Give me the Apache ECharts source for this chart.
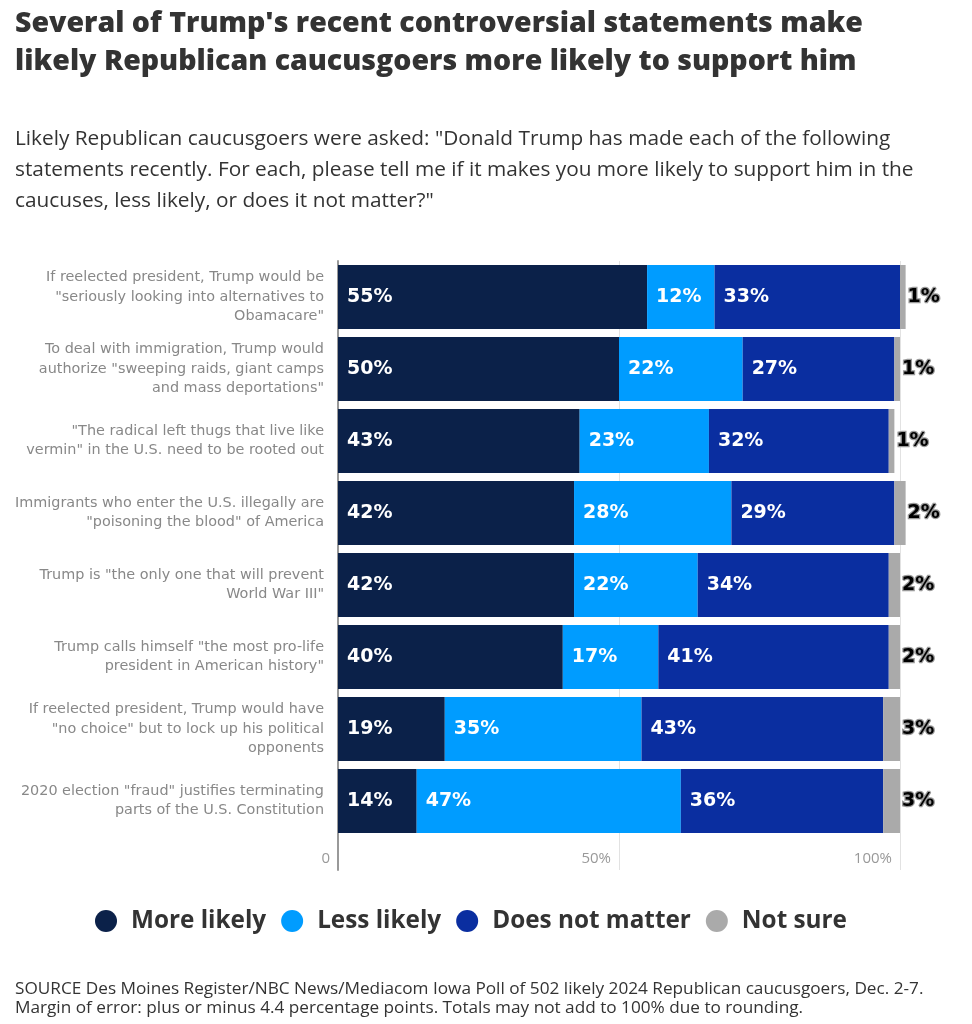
<!DOCTYPE html>
<html>
<head>
<meta charset="utf-8">
<script src="https://cdn.jsdelivr.net/npm/echarts@6/dist/echarts.min.js"></script>
<style>
html,body{margin:0;padding:0;background:#fff;}
#chart{width:972px;height:1024px;}
</style>
</head>
<body>
<div id="chart"></div>
<script>
const titleText = "Several of Trump's recent controversial statements make\nlikely Republican caucusgoers more likely to support him";
const subtitleText = 'Likely Republican caucusgoers were asked: "Donald Trump has made each of the following\nstatements recently. For each, please tell me if it makes you more likely to support him in the\ncaucuses, less likely, or does it not matter?"';
const footerText = 'SOURCE Des Moines Register/NBC News/Mediacom Iowa Poll of 502 likely 2024 Republican caucusgoers, Dec. 2-7.\nMargin of error: plus or minus 4.4 percentage points. Totals may not add to 100% due to rounding.';

const categories = [
  'If reelected president, Trump would be\n"seriously looking into alternatives to\nObamacare"',
  'To deal with immigration, Trump would\nauthorize "sweeping raids, giant camps\nand mass deportations"',
  '"The radical left thugs that live like\nvermin" in the U.S. need to be rooted out',
  'Immigrants who enter the U.S. illegally are\n"poisoning the blood" of America',
  'Trump is "the only one that will prevent\nWorld War III"',
  'Trump calls himself "the most pro-life\npresident in American history"',
  'If reelected president, Trump would have\n"no choice" but to lock up his political\nopponents',
  '2020 election "fraud" justifies terminating\nparts of the U.S. Constitution'
];
const seriesNames = ['More likely', 'Less likely', 'Does not matter', 'Not sure'];
const moreLikely = [55, 50, 43, 42, 42, 40, 19, 14];
const lessLikely = [12, 22, 23, 28, 22, 17, 35, 47];
const noMatter   = [33, 27, 32, 29, 34, 41, 43, 36];
const notSure    = [1, 1, 1, 2, 2, 2, 3, 3];
const xTicks = [0, 50, 100];

const colors = ['#0b2149', '#009cff', '#0a2ea0', '#aaaaaa'];
const valueSets = [moreLikely, lessLikely, noMatter, notSure];

const chart = echarts.init(document.getElementById('chart'));

const series = valueSets.map((vals, i) => {
  const last = i === 3;
  return {
    name: seriesNames[i],
    type: 'bar',
    stack: 'total',
    xAxisIndex: 0,
    yAxisIndex: 0,
    barWidth: 64,
    clip: false,
    data: vals,
    itemStyle: { color: colors[i] },
    label: last ? {
      show: true,
      position: 'right',
      distance: 2,
      formatter: '{c}%',
      color: '#000',
      fontFamily: 'DejaVu Sans',
      fontWeight: 'bold',
      fontSize: 19,
      textBorderColor: '#9a9a9a',
      textBorderWidth: 2.5
    } : {
      show: true,
      position: 'insideLeft',
      distance: 9,
      formatter: '{c}%',
      color: '#fff',
      fontFamily: 'DejaVu Sans',
      fontWeight: 'bold',
      fontSize: 19
    }
  };
});

const option = {
  backgroundColor: '#fff',
  animation: false,
  color: colors,
  title: [
    {
      text: titleText,
      left: 15, top: 5, padding: 0,
      textStyle: { fontFamily: 'Open Sans', fontWeight: 800, fontSize: 28.5, lineHeight: 38, color: '#333' }
    },
    {
      text: subtitleText,
      left: 15, top: 124, padding: 0,
      textStyle: { fontFamily: 'Open Sans', fontWeight: 'normal', fontSize: 20.8, lineHeight: 31, color: '#333' }
    },
    {
      text: footerText,
      left: 15, top: 979, padding: 0,
      textStyle: { fontFamily: 'Open Sans', fontWeight: 'normal', fontSize: 17.2, lineHeight: 19.5, color: '#333' }
    }
  ],
  legend: {
    data: seriesNames,
    left: 95, top: 909, padding: 0,
    icon: 'circle',
    itemWidth: 22, itemHeight: 22,
    itemGap: 15,
    textStyle: { fontFamily: 'Open Sans', fontWeight: 'bold', fontSize: 24.3, color: '#333', padding: [0, 0, 0, 9] }
  },
  grid: [
    { left: 338, top: 261, width: 562, height: 576, containLabel: false },
    { left: 338, top: 837, width: 562, height: 33, containLabel: false }
  ],
  xAxis: [
    {
      gridIndex: 0, type: 'value', min: 0, max: 100, interval: 50,
      axisLine: { show: false }, axisTick: { show: false }, axisLabel: { show: false },
      splitLine: { show: true, lineStyle: { color: '#e2e2e2', width: 1 } }
    },
    {
      gridIndex: 1, type: 'value', min: 0, max: 100, interval: 50, position: 'bottom',
      axisLine: { show: false }, axisTick: { show: false },
      axisLabel: {
        show: true, inside: true, margin: 4, align: 'right',
        padding: [0, 8, 0, 0],
        fontFamily: 'Open Sans', fontSize: 15, color: '#999',
        formatter: v => xTicks.includes(v) ? (v === 0 ? '0' : v + '%') : ''
      },
      splitLine: { show: true, lineStyle: { color: '#e2e2e2', width: 1 } }
    }
  ],
  yAxis: [
    {
      gridIndex: 0, type: 'category', data: categories, inverse: true,
      axisLine: { show: true, lineStyle: { color: '#999', width: 2 } },
      axisTick: { show: false },
      axisLabel: {
        margin: 14, align: 'right', fontFamily: 'DejaVu Sans', fontSize: 14.4,
        lineHeight: 19.5, color: '#888'
      },
      splitLine: { show: false }
    },
    {
      gridIndex: 1, type: 'category', data: [''],
      axisLine: { show: true, lineStyle: { color: '#999', width: 2 } },
      axisTick: { show: false }, axisLabel: { show: false }, splitLine: { show: false }
    }
  ],
  series: series
};

chart.setOption(option);
</script>
</body>
</html>
